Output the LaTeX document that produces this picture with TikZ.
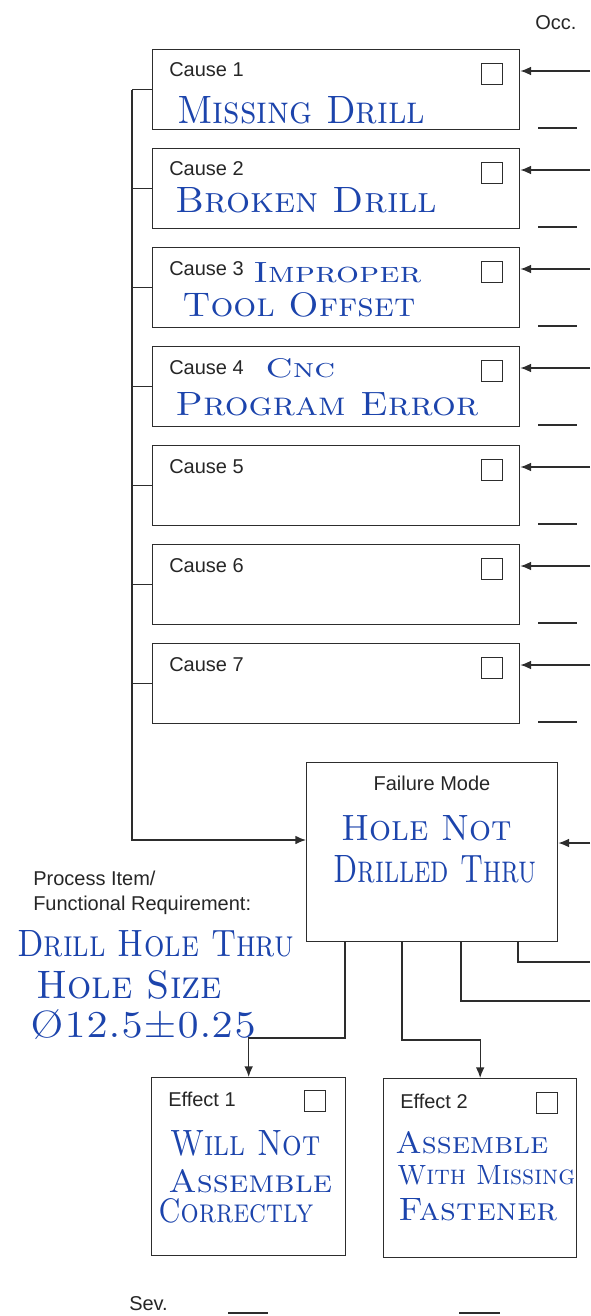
\documentclass[tikz,border=0pt]{standalone}
\usepackage{fontspec}
\setsansfont{Liberation Sans}
\usetikzlibrary{arrows.meta}

\definecolor{ink}{RGB}{28,68,172}
\definecolor{rule}{RGB}{45,45,45}
\newcommand\px{0.75pt}
\newdimen\pxd \pxd=0.75pt
% pen lettering, squeezed to the size it has on the sheet
\newcommand\pen[3][24]{\resizebox{#2\pxd}{#1\pxd}{#3}}

\tikzset{
  box/.style={draw=rule, line width=1pt, anchor=north west, inner sep=0pt},
  lbl/.style={font=\sffamily\fontsize{15}{18}\selectfont, text=black!85, inner sep=0pt},
  chk/.style={draw=rule, line width=0.7pt, minimum size=21*\px, inner sep=0pt},
  hand/.style={font=\rmfamily\scshape\fontsize{22}{26}\selectfont, text=ink, inner sep=0pt, anchor=base west},
  wire/.style={draw=rule, line width=1pt},
  arr/.style={wire, -{Latex[length=8pt,width=6.5pt]}},
  blank/.style={draw=rule, line width=1.1pt},
}

\begin{document}
\begin{tikzpicture}[x=0.75pt, y=-0.75pt]
        \useasboundingbox (0,0) rectangle (590,1316);

        \node[lbl, anchor=base west] (occ) at (535,30) {Occ.};

        % causes
        \foreach \i in {1,...,7} {
            \pgfmathsetmacro\ctop{49+99*(\i-1)}
            \node[box, minimum width=367*\px, minimum height=80*\px] (c\i) at (152,\ctop) {};
            \node[lbl, anchor=base west] (c\i l) at (169,\ctop+28) {Cause \i};
            \node[chk] (c\i k) at (491.5,\ctop+24.5) {};
            \coordinate (o\i) at (590,\ctop+22);
            \draw[arr] (o\i) -- (o\i -| c\i.east);
            \draw[blank] (538,\ctop+79) -- (577,\ctop+79);
            \draw[wire] (c\i.west) -- ++(-20,0) coordinate (b\i);
        }

        \node[hand] (h1) at (177,124) {\pen[27]{248}{Missing Drill}};
        \node[hand] (h2) at (175,213) {\pen[25]{262}{Broken Drill}};
        \node[hand] (h3a) at (253,282) {\pen[20]{168}{Improper}};
        \node[hand] (h3b) at (182,316) {\pen[24]{233}{Tool Offset}};
        \node[hand] (h4a) at (265,377) {\pen[19]{70}{Cnc}};
        \node[hand] (h4b) at (175,415) {\pen[23]{303}{Program Error}};

        % failure mode
        \node[box, minimum width=251*\px, minimum height=179*\px] (fm) at (306,762) {};
        \node[lbl] (fml) at (432,783) {Failure Mode};
        \node[hand] (hf1) at (341,840) {\pen[25]{171}{Hole Not}};
        \node[hand] (hf2) at (333,882) {\pen[27]{203}{Drilled Thru}};

        \draw[arr] (b1) -- (b7) |- (fm.west |- 0,840);
        \coordinate (ofm) at (590,843);
        \draw[arr] (ofm) -- (ofm -| fm.east);

        % process item
        \node[lbl, anchor=base west] (pi1) at (33,885) {Process Item/};
        \node[lbl, anchor=base west] (pi2) at (33,910) {Functional Requirement:};
        \node[hand] (hp1) at (17,956) {\pen[26]{277}{Drill Hole Thru}};
        \node[hand] (hp2) at (36,998) {\pen[28]{186}{Hole Size}};
        \node[hand] (hp3) at (30,1037) {\pen[28]{226}{Ø12.5±0.25}};

        % effects
        \node[box, minimum width=194*\px, minimum height=178*\px] (e1) at (151,1077) {};
        \node[box, minimum width=193*\px, minimum height=179*\px] (e2) at (383,1078) {};
        \node[lbl, anchor=base west] (e1l) at (168,1106) {Effect 1};
        \node[lbl, anchor=base west] (e2l) at (400,1108) {Effect 2};
        \node[chk] (e1k) at (314.5,1100.5) {};
        \node[chk] (e2k) at (546.5,1102.5) {};

        \node[hand] (he1a) at (170,1155) {\pen[25]{150}{Will Not}};
        \node[hand] (he1b) at (168,1192) {\pen[23]{164}{Assemble}};
        \node[hand] (he1c) at (158,1222) {\pen[24]{155}{Correctly}};
        \node[hand] (he2a) at (395,1153) {\pen[22]{153}{Assemble}};
        \node[hand] (he2b) at (397,1184) {\pen[19]{178}{With Missing}};
        \node[hand] (he2c) at (398,1220) {\pen[22]{159}{Fastener}};

        \draw[arr] (fm.south -| 345,0) -- (345,1038) -| (e1.north);
        \draw[arr] (fm.south -| 402,0) -- (402,1040) -| (e2.north);
        \coordinate (r1) at (590,1001);
        \coordinate (r2) at (590,962);
        \draw[wire] (fm.south -| 461,0) |- (r1);
        \draw[wire] (fm.south -| 518,0) |- (r2);

        % severity
        \node[lbl, anchor=base west] (sev) at (129,1310) {Sev.};
        \draw[blank] (228,1313) -- (268,1313);
        \draw[blank] (459,1313) -- (500,1313);
\end{tikzpicture}
\end{document}
